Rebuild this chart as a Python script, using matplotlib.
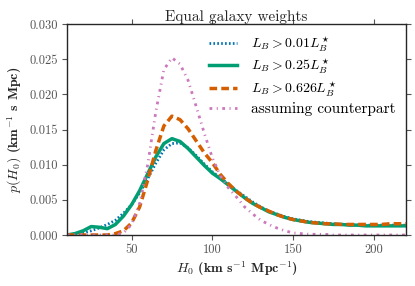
import numpy as np
import matplotlib
matplotlib.use("Agg")
import matplotlib.pyplot as plt

h0 = [10, 15, 20, 25, 30, 35, 40, 45, 50, 55, 60, 65, 70, 75, 80, 85, 90, 95, 100,
      105, 110, 115, 120, 125, 130, 135, 140, 145, 150, 155, 160, 165, 170, 175,
      180, 185, 190, 195, 200, 205, 210, 215, 220]

p_001 = [0.0000, 0.0001, 0.0003, 0.0006, 0.0010, 0.0015, 0.0021, 0.0031, 0.0043,
         0.0060, 0.0080, 0.0102, 0.0121, 0.0130, 0.0131, 0.0124, 0.0113, 0.0101,
         0.0090, 0.0081, 0.0072, 0.0063, 0.0055, 0.0047, 0.0040, 0.0034, 0.0030,
         0.0026, 0.0023, 0.0021, 0.0019, 0.0018, 0.0017, 0.0016, 0.0015, 0.0015,
         0.0014, 0.0014, 0.0014, 0.0014, 0.0014, 0.0014, 0.0014]

p_025 = [0.0000, 0.0002, 0.0006, 0.0012, 0.0011, 0.0009, 0.0015, 0.0027, 0.0043,
         0.0063, 0.0087, 0.0111, 0.0130, 0.0137, 0.0133, 0.0123, 0.0111, 0.0099,
         0.0088, 0.0080, 0.0071, 0.0062, 0.0053, 0.0045, 0.0039, 0.0033, 0.0029,
         0.0025, 0.0022, 0.0020, 0.0018, 0.0017, 0.0016, 0.0015, 0.0015, 0.0014,
         0.0014, 0.0013, 0.0013, 0.0013, 0.0013, 0.0013, 0.0013]

p_0626 = [0.0000, 0.0000, 0.0000, 0.0000, 0.0000, 0.0000, 0.0002, 0.0006, 0.0017,
          0.0040, 0.0078, 0.0120, 0.0155, 0.0169, 0.0164, 0.0151, 0.0134, 0.0117,
          0.0103, 0.0086, 0.0073, 0.0062, 0.0053, 0.0045, 0.0039, 0.0034, 0.0029,
          0.0025, 0.0022, 0.0020, 0.0018, 0.0017, 0.0016, 0.0016, 0.0015, 0.0015,
          0.0015, 0.0015, 0.0015, 0.0015, 0.0016, 0.0016, 0.0016]

p_cp = [0.0000, 0.0000, 0.0000, 0.0000, 0.0000, 0.0000, 0.0000, 0.0003, 0.0015,
        0.0045, 0.0100, 0.0175, 0.0235, 0.0252, 0.0243, 0.0220, 0.0183, 0.0145,
        0.0110, 0.0084, 0.0067, 0.0054, 0.0040, 0.0030, 0.0021, 0.0015, 0.0010,
        0.0006, 0.0003, 0.0002, 0.0001, 0.0001, 0.0001, 0.0000, 0.0000, 0.0000,
        0.0000, 0.0000, 0.0000, 0.0000, 0.0000, 0.0000, 0.0000]

labels = [r"$L_B > 0.01L_B^\star$", r"$L_B > 0.25L_B^\star$",
          r"$L_B > 0.626L_B^\star$", "assuming counterpart"]
colors = ["#0173b2", "#029e73", "#d55e00", "#cc78bc"]

xticks = [50, 100, 150, 200]
yticks = [0.000, 0.005, 0.010, 0.015, 0.020, 0.025, 0.030]

plt.rcParams["font.family"] = ["cmr10", "DejaVu Serif"]
plt.rcParams["mathtext.fontset"] = "cm"
plt.rcParams["axes.unicode_minus"] = False

fig = plt.figure(figsize=(4.15, 2.86), dpi=100)
ax = fig.add_axes([67 / 415, 1 - 235 / 286, (406 - 67) / 415, (235 - 24) / 286])

ax.plot(h0, p_001, color=colors[0], lw=2.0, ls=(0, (0.6, 0.8)), label=labels[0])
ax.plot(h0, p_025, color=colors[1], lw=2.5, ls="-", label=labels[1])
ax.plot(h0, p_0626, color=colors[2], lw=2.5, ls=(0, (2.2, 1.2)), label=labels[2])
ax.plot(h0, p_cp, color=colors[3], lw=2.0, ls=(0, (1.0, 1.6, 0.4, 1.6)), label=labels[3])

ax.set_xlim(10, 220)
ax.set_ylim(0, 0.030)
ax.set_xticks(xticks)
ax.set_yticks(yticks)
ax.set_yticklabels([f"{v:.3f}" for v in yticks])

ax.tick_params(direction="out", top=True, right=True, labelsize=9,
               colors="#555555", length=3.5, width=0.8, pad=3)
for s in ax.spines.values():
    s.set_color("#262626")
    s.set_linewidth(1.0)

ax.set_title("Equal galaxy weights", fontsize=11, pad=2, color="#262626")
ax.set_xlabel(r"$H_0$ (km s$^{-1}$ Mpc$^{-1}$)", fontsize=10,
              family=["cmb10", "DejaVu Serif"], color="#262626", labelpad=2)
ax.set_ylabel(r"$p(H_0)$ (km$^{-1}$ s Mpc)", fontsize=10,
              family=["cmb10", "DejaVu Serif"], color="#262626", labelpad=4)

leg = ax.legend(loc="upper right", frameon=False, fontsize=11, handlelength=1.85,
                handletextpad=0.9, labelspacing=0.22, borderaxespad=0.3)
for t in leg.get_texts()[:3]:
    t.set_fontsize(10)

fig.savefig("out.png", dpi=100)
